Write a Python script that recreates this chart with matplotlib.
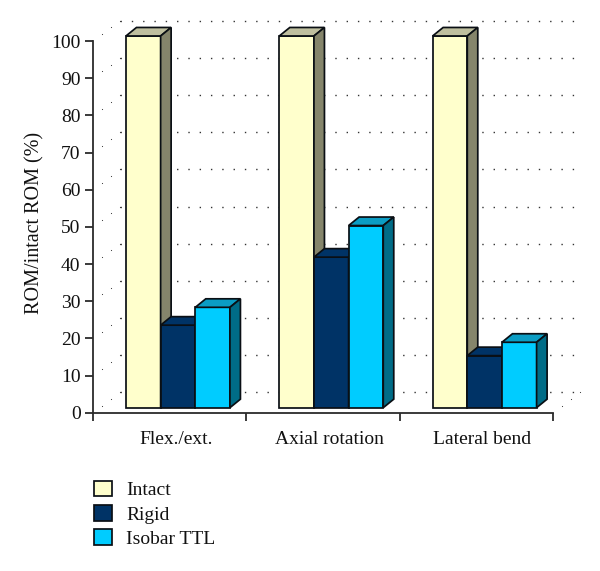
import numpy as np
import matplotlib
matplotlib.use('Agg')
import matplotlib.pyplot as plt
from matplotlib.patches import Polygon, Patch

plt.rcParams['font.family'] = ['Liberation Serif', 'DejaVu Serif']

# Data
categories = ["Flex./ext.", "Axial rotation", "Lateral bend"]
series = ["Intact", "Rigid", "Isobar TTL"]
intact = [100, 100, 100]
rigid = [22.2, 40.5, 14]
isobar = [27, 49, 17.6]
yticks = list(range(0, 101, 10))

# Colors: front, top, side
C = {
    "Intact": ("#ffffcc", "#bfbf9f", "#85856b"),
    "Rigid": ("#003366", "#003366", "#00264d"),
    "Isobar TTL": ("#00ccff", "#0b9dc4", "#006c87"),
}
EDGE = "#0a0f14"
LW = 1.25

W, H = 600, 571
fig = plt.figure(figsize=(W / 100, H / 100), dpi=100)
ax = fig.add_axes([93 / W, (H - 412.7) / H, 460 / W, 371.7 / H])
ax.set_xlim(0, 3)
ax.set_ylim(0, 100)

# 3D look, in data units
bar_w = 0.226
bar_start = 0.215
base = 1.35
dx, dy = 0.0685, 2.29
wall_dx, wall_dy = 0.176, 5.46


def dot_row(x0, x1, y):
    ax.plot([x0, x1], [y, y], color="#333333", lw=1.0, zorder=1, clip_on=False,
            ls=(0, (1, 7.14)))


# ── Back wall and side wall dots
for v in yticks:
    dot_row(wall_dx, 3 + wall_dx, v + wall_dy)
    for f in (1 / 3, 2 / 3, 1):
        ax.plot([f * wall_dx], [v + f * wall_dy], ".", ms=1.6, color="#333333",
                mew=0, zorder=1, clip_on=False)
for f in (1 / 3, 2 / 3, 1):
    ax.plot([3 + f * wall_dx], [f * wall_dy], ".", ms=1.6, color="#333333",
            mew=0, zorder=1, clip_on=False)

# ── Bars
z = 3
for g in range(len(categories)):
    for s, (name, vals) in enumerate(zip(series, (intact, rigid, isobar))):
        front, top, side = C[name]
        x0 = g + bar_start + s * bar_w
        x1 = x0 + bar_w
        y1 = base + vals[g]
        ax.bar(x0, vals[g], bar_w, bottom=base, align="edge", color=front,
               edgecolor=EDGE, lw=LW, zorder=z, clip_on=False)
        ax.add_patch(Polygon([(x0, y1), (x0 + dx, y1 + dy), (x1 + dx, y1 + dy), (x1, y1)],
                             fc=top, ec=EDGE, lw=LW, zorder=z, clip_on=False))
        ax.add_patch(Polygon([(x1, base), (x1 + dx, base + dy), (x1 + dx, y1 + dy), (x1, y1)],
                             fc=side, ec=EDGE, lw=LW, zorder=z, clip_on=False))
        z += 1

# ── Axes
for sp in ("top", "right"):
    ax.spines[sp].set_visible(False)
for sp in ("left", "bottom"):
    ax.spines[sp].set_linewidth(1.3)
    ax.spines[sp].set_color("#2b2b2b")
ax.set_yticks(yticks)
ax.tick_params(axis="y", length=6, width=1.3, color="#2b2b2b", labelsize=14, pad=3,
               labelcolor="#111111")
ax.set_xticks([0, 1, 2, 3])
ax.set_xticklabels([])
ax.tick_params(axis="x", which="major", length=6, width=1.3, color="#2b2b2b")
ax.set_xticks([g + 0.54 for g in range(3)], categories, minor=True)
ax.tick_params(axis="x", which="minor", length=0, labelsize=14, pad=13, labelcolor="#111111")
fig.text(35 / W, 1 - 223 / H, "ROM/intact ROM (%)", rotation=90, ha="center", va="center",
         fontsize=14.5, color="#111111")

# ── Legend
handles = [Patch(fc=C[n][0], ec=EDGE, lw=LW) for n in series]
leg = fig.legend(handles, series, loc="upper left", bbox_to_anchor=(94 / W, 1 - 480.5 / H),
                 frameon=False, fontsize=14, handlelength=0.93, handleheight=0.88,
                 handletextpad=0.72, labelspacing=0.3, borderpad=0, borderaxespad=0,
                 labelcolor="#111111")

fig.savefig("out.png", dpi=100, facecolor="white")
